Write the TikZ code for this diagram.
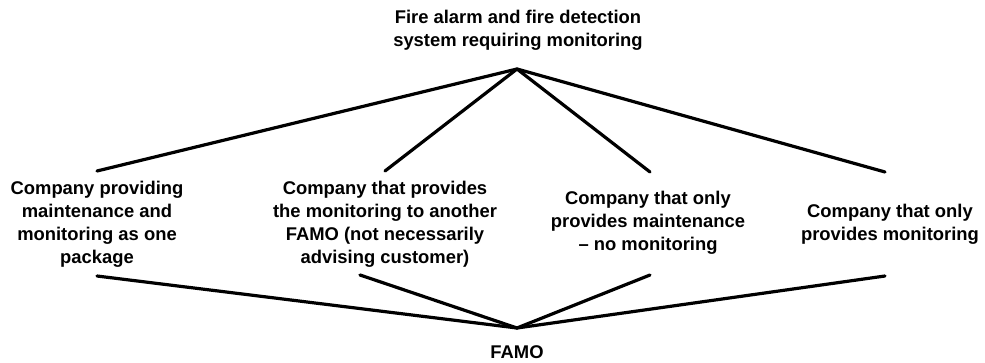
\documentclass[tikz,border=0pt]{standalone}
\usepackage{fontspec}
\setmainfont{Liberation Sans}
\begin{document}
\begin{tikzpicture}[x=0.75pt,y=-0.75pt,
  lbl/.style={align=center,inner sep=0pt,font=\fontsize{13.8}{17.25}\selectfont\bfseries},
  link/.style={line width=2.4pt,line cap=round}]
\useasboundingbox (0,0) rectangle (985,363);
\node[lbl] (sys) at (518,30) {Fire alarm and fire detection\\system requiring monitoring};
\node[lbl] (c1) at (97,224) {Company providing\\maintenance and\\monitoring as one\\package};
\node[lbl] (c2) at (385,224) {Company that provides\\the monitoring to another\\FAMO (not necessarily\\advising customer)};
\node[lbl] (c3) at (648,223) {Company that only\\provides maintenance\\– no monitoring};
\node[lbl] (c4) at (890,224) {Company that only\\provides monitoring};
\node[lbl] (famo) at (517,352) {FAMO};
\coordinate (ta) at (517,69);
\coordinate (t1) at (97,171);
\coordinate (t2) at (385,171);
\coordinate (t3) at (650,172);
\coordinate (t4) at (885,172);
\coordinate (ba) at (517,328);
\coordinate (b1) at (97,276);
\coordinate (b2) at (360,275);
\coordinate (b3) at (650,275);
\coordinate (b4) at (885,276);
\foreach \e in {t1,t2,t3,t4} \draw[link] (ta) -- (\e);
\foreach \e in {b1,b2,b3,b4} \draw[link] (ba) -- (\e);
\end{tikzpicture}
\end{document}
